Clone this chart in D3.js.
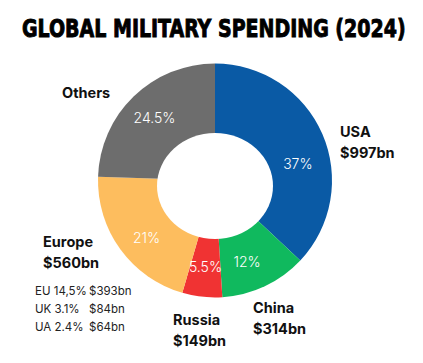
<!DOCTYPE html>
<html>
<head>
<meta charset="utf-8">
<script src="https://cdn.jsdelivr.net/npm/d3@7"></script>
<style>
  body { margin: 0; background: #fff; }
  svg { display: block; }
</style>
</head>
<body>
<div id="chart"></div>
<script>
var svgWidth = 423;
var svgHeight = 363;

// slices, clockwise from 12 o'clock
var regions = ["USA", "China", "Russia", "Europe", "Others"];
var shares = [37, 12, 5.5, 21, 24.5];
var shareLabels = ["37%", "12%", "5.5%", "21%", "24.5%"];
var amounts = ["$997bn", "$314bn", "$149bn", "$560bn", ""];
var colors = ["#0a5aa5", "#10b95e", "#f03333", "#fdbd5e", "#6d6d6d"];

// europe breakdown
var subNames = ["EU 14,5%", "UK 3.1%", "UA 2.4%"];
var subAmounts = ["$393bn", "$84bn", "$64bn"];

var cx = 215, cy = 180.5;
var outerR = 117;

var svg = d3.select("#chart")
  .append("svg")
  .attr("width", svgWidth)
  .attr("height", svgHeight);

var title = svg.append("text")
  .text("GLOBAL MILITARY SPENDING (2024)")
  .attr("x", 0)
  .attr("y", 0)
  .attr("font-family", "'DejaVu Sans Condensed', 'DejaVu Sans', sans-serif")
  .attr("font-weight", 900)
  .attr("font-size", 25)
  .attr("stroke", "#000")
  .attr("stroke-width", 0.9)
  .attr("fill", "#000");

// squeeze the title to the width of the original (condensed poster font)
var natural = title.node().getComputedTextLength();
var sx = 384 / natural;
title.attr("transform", "translate(22,37) scale(" + sx + ",1)");

var data = regions.map(function(r, i) {
  return { name: r, value: shares[i], label: shareLabels[i], color: colors[i] };
});

var pie = d3.pie()
  .sort(null)
  .value(function(d) { return d.value; });

var arc = d3.arc()
  .innerRadius(0)
  .outerRadius(outerR);

var labelArc = d3.arc()
  .innerRadius(87)
  .outerRadius(87);

var g = svg.append("g")
  .attr("transform", "translate(" + cx + "," + cy + ")");

var slices = pie(data);

g.selectAll("path")
  .data(slices)
  .enter()
  .append("path")
  .attr("d", arc)
  .attr("fill", function(d) { return d.data.color; });

// the hole is a bit off-centre in the original
g.append("ellipse")
  .attr("cx", 0)
  .attr("cy", 5.5)
  .attr("rx", 58)
  .attr("ry", 53)
  .attr("fill", "#fff");

// nudge some labels like the original
var nudge = { "USA": [3, 18], "China": [-5, 3], "Europe": [2, 6] };

g.selectAll(".pct")
  .data(slices)
  .enter()
  .append("text")
  .attr("class", "pct")
  .text(function(d) { return d.data.label; })
  .attr("transform", function(d) {
    var c = labelArc.centroid(d);
    var n = nudge[d.data.name] || [0, 0];
    return "translate(" + (c[0] + n[0]) + "," + (c[1] + n[1]) + ")";
  })
  .attr("dy", "0.36em")
  .attr("text-anchor", "middle")
  .attr("font-family", "Inter, 'Noto Sans', sans-serif")
  .attr("font-weight", 300)
  .attr("font-size", 14)
  .attr("fill", "#fff");

// outside labels
var labelPos = {
  "USA": [340, 137],
  "China": [253, 313],
  "Russia": [173, 325],
  "Europe": [43, 247],
  "Others": [62, 98]
};

var outside = svg.append("g");
regions.forEach(function(r, i) {
  var p = labelPos[r];
  var t = outside.append("text")
    .attr("x", p[0])
    .attr("y", p[1])
    .attr("font-family", "Inter, 'Noto Sans', sans-serif")
    .attr("font-weight", 700)
    .attr("font-size", 14.5)
    .attr("fill", "#111");
  t.append("tspan").attr("x", p[0]).text(r);
  if (amounts[i]) {
    t.append("tspan").attr("x", p[0]).attr("dy", 21).text(amounts[i]);
  }
});

var sub = svg.append("g")
  .attr("font-family", "Inter, 'Noto Sans', sans-serif")
  .attr("font-size", 11.5)
  .attr("fill", "#222");

sub.selectAll(".subname")
  .data(subNames)
  .enter()
  .append("text")
  .attr("x", 35)
  .attr("y", function(d, i) { return 295 + i * 18; })
  .text(function(d) { return d; });

sub.selectAll(".subamt")
  .data(subAmounts)
  .enter()
  .append("text")
  .attr("x", 89)
  .attr("y", function(d, i) { return 295 + i * 18; })
  .text(function(d) { return d; });
</script>
</body>
</html>
